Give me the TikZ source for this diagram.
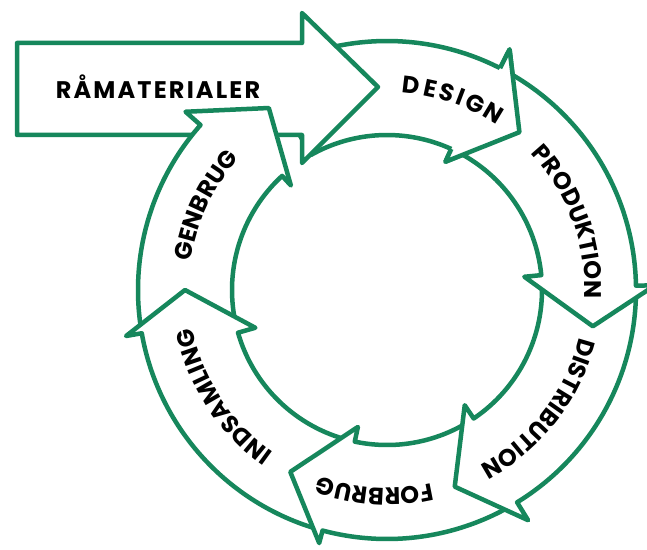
\documentclass[tikz,border=0pt]{standalone}
\usepackage{fontspec}
\newfontfamily\lblfont{Poppins}
\usetikzlibrary{decorations.text}
\definecolor{ringgreen}{RGB}{22,135,92}
\tikzset{
  band/.style={draw=ringgreen, fill=white, line width=4.5pt, line join=round},
  bandline/.style={draw=ringgreen, line width=4.5pt, line join=round},
  lbl/.style={font=\lblfont\bfseries\addfontfeatures{LetterSpace=9}\fontsize{24}{24}\selectfont, text=black},
  letter/.style={font=\lblfont\bfseries\fontsize{24}{24}\selectfont, text=black, inner sep=0pt, anchor=base},
}
% tail outer, tail inner, base outer, base inner, tip, barb outer r, tip r, barb inner r
\newcommand\ringseg[8]{%
  \draw[band] (#1:249) arc[start angle=#1, end angle=#3, radius=249]
    -- (#3:#6) -- (#5:#7) -- (#4:#8) -- (#4:155)
    arc[start angle=#4, end angle=#2, radius=155] -- cycle;}
% centre angle, text
\newcommand\arclabel[2]{%
  \path[decorate, decoration={text along path, text align=center,
    text={|\lblfont\bfseries\fontsize{24}{24}\selectfont|#2}}]
    (#1+70:198) arc[start angle=#1+70, end angle=#1-70, radius=198];}
\begin{document}
\begin{tikzpicture}[x=1pt,y=1pt]
\useasboundingbox (0,0) rectangle (647,549);
\fill[white] (0,0) rectangle (647,549);
\begin{scope}[shift={(387,259)}]
  \ringseg{119.4}{119.4}{63}{65.5}{50}{270}{206}{141}
\end{scope}
\draw[band] (17,414) -- (17,506) -- (302,506) -- (302,536) -- (378,462)
  -- (302,386) -- (302,414) -- cycle;
\node[lbl, anchor=base] (raw) at (158,450) {RÅMATERIALER};
\begin{scope}[shift={(387,259)}]
  \ringseg{188}{194}{138.5}{132.6}{123}{269}{217}{142}
  \ringseg{253}{256}{190}{196}{180}{265}{202}{137}
  \ringseg{-60.5}{-58}{-105}{-102}{-118}{262}{206}{140}
  \ringseg{-1}{3.5}{-58.5}{-56}{-71}{270}{208}{139}
  \ringseg{61}{63.5}{1}{5.5}{-10}{268}{209}{138}
  \fill[white] (63:249) -- (63:270) -- (50:206) -- (65.5:141) -- (65.5:155) -- cycle;
  \draw[bandline] (63:249) -- (63:270) -- (50:206) -- (65.5:141) -- (65.5:155);
  \foreach \ch/\ang [count=\i] in {D/83.3, E/77.9, S/73.0, I/69.1, G/64.7, N/58.8}
    \node[letter, rotate=\ang-90] (design\i) at (\ang:198) {\ch};
  \arclabel{20.5}{PRODUKTION}
  \arclabel{-38}{DISTRIBUTION}
  \arclabel{-93.5}{FORBRUG}
  \arclabel{213}{INDSAMLING}
  \arclabel{155}{GENBRUG}
\end{scope}
\end{tikzpicture}
\end{document}
